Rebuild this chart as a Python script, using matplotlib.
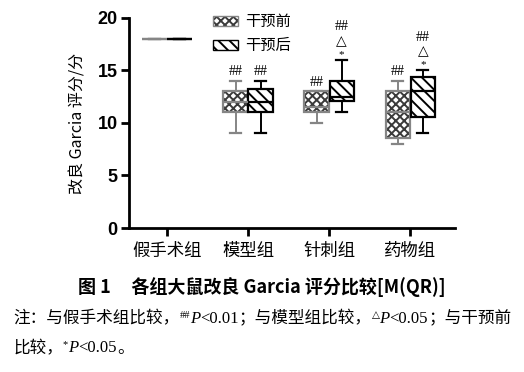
import matplotlib
matplotlib.use('Agg')
import matplotlib.pyplot as plt
from matplotlib.patches import Patch
from matplotlib.colors import to_rgba
from matplotlib.offsetbox import TextArea, HPacker, AnchoredOffsetbox
import numpy as np

plt.rcParams['font.family'] = ['Noto Sans CJK SC', 'DejaVu Sans']
plt.rcParams['hatch.linewidth'] = 1.4

groups = ['假手术组', '模型组', '针刺组', '药物组']
series = ['干预前', '干预后']

# box stats: [low whisker, q1, median, q3, high whisker]
pre_lo = [18, 9, 10, 8]
pre_q1 = [18, 11, 11, 8.6]
pre_med = [18, 12, 11.5, 11]
pre_q3 = [18, 13, 13, 13]
pre_hi = [18, 14, 13, 14]

post_lo = [18, 9, 11, 9]
post_q1 = [18, 11, 12.1, 10.6]
post_med = [18, 12, 12.5, 13]
post_q3 = [18, 13.2, 14, 14.4]
post_hi = [18, 14, 16, 15]

pre_marks = [[], ['##'], ['##'], ['##']]
post_marks = [[], ['##'], ['*', '△', '##'], ['*', '△', '##']]


def stats(lo, q1, med, q3, hi):
    return [dict(whislo=a, q1=b, med=c, q3=d, whishi=e, fliers=[])
            for a, b, c, d, e in zip(lo, q1, med, q3, hi)]


fig = plt.figure(figsize=(5.24, 3.72), dpi=100)
ax = fig.add_axes([0.246, 0.387, 0.622, 0.565])

x = np.arange(len(groups))
off = 0.155
w = 0.30
gray = '#858585'

styles = [
    (stats(pre_lo, pre_q1, pre_med, pre_q3, pre_hi), x - off, gray, 'xxxx', '#3a3a3a', pre_marks),
    (stats(post_lo, post_q1, post_med, post_q3, post_hi), x + off, 'black', '\\\\\\', 'black', post_marks),
]

mark_font = ['Liberation Serif', 'DejaVu Sans']
for st, pos, col, hatch, hcol, marks in styles:
    bp = ax.bxp(st, positions=pos, widths=w, patch_artist=True, showfliers=False,
                boxprops=dict(facecolor='white', edgecolor=col, hatch=hatch, linewidth=1.6),
                medianprops=dict(color=col, linewidth=1.6),
                whiskerprops=dict(color=col, linewidth=1.4),
                capprops=dict(color=col, linewidth=1.6), capwidths=w * 0.45)
    for b in bp['boxes']:
        b._hatch_color = to_rgba(hcol)
    for p, s, mk in zip(pos, st, marks):
        for m in mk:
            if m == '*':
                dy, fs, fam = 4, 8, mark_font
            elif m == '△':
                dy, fs, fam = 13.5, 10, 'DejaVu Sans'
            else:
                dy, fs, fam = (24 if len(mk) > 1 else 6.5), 10, mark_font
            ax.annotate(m, (p, s['whishi']), xytext=(0, dy), textcoords='offset points',
                        ha='center', va='center', fontsize=fs, family=fam)

ax.set_xlim(-0.47, 3.55)
ax.set_ylim(0, 20)
ax.set_yticks([0, 5, 10, 15, 20])
ax.set_xticks(x)
ax.set_xticklabels(groups, fontsize=12.5)
for lab in ax.get_yticklabels():
    lab.set_family('Liberation Sans')
    lab.set_fontweight('bold')
    lab.set_fontsize(13)
ax.tick_params(axis='y', length=6, width=2, pad=2)
ax.tick_params(axis='x', length=6, width=2, pad=4)
for s in ['top', 'right']:
    ax.spines[s].set_visible(False)
for s in ['left', 'bottom']:
    ax.spines[s].set_linewidth(2)
ax.set_ylabel('改良 Garcia 评分/分', fontsize=11.5, labelpad=8)

handles = [Patch(facecolor='white', edgecolor=gray, hatch='xxxx', linewidth=1),
           Patch(facecolor='white', edgecolor='black', hatch='\\\\\\', linewidth=1)]
leg = ax.legend(handles, series, loc='upper left', bbox_to_anchor=(0.24, 1.05), frameon=False,
                fontsize=11, handlelength=1.6, handleheight=0.55, handletextpad=0.5,
                labelspacing=0.45, borderaxespad=0)
leg.get_patches()[0]._hatch_color = to_rgba('#3a3a3a')

fig.text(0.5, 0.228, '图 1     各组大鼠改良 Garcia 评分比较[M(QR)]', ha='center', va='center',
         fontsize=13, fontweight='bold')


def note_line(pieces, xy):
    boxes = []
    for txt, kind in pieces:
        if kind == 'sup':
            tp = dict(fontsize=7.5, family=mark_font)
        elif kind == 'it':
            tp = dict(fontsize=12, style='italic', family='Liberation Serif')
        elif kind == 'num':
            tp = dict(fontsize=12, family='Liberation Serif')
        else:
            tp = dict(fontsize=12)
        boxes.append(TextArea(txt, textprops=tp))
    pack = HPacker(children=boxes, align='top', pad=0, sep=0)
    ab = AnchoredOffsetbox(loc='center left', child=pack, pad=0, borderpad=0, frameon=False,
                           bbox_to_anchor=xy, bbox_transform=fig.transFigure)
    fig.add_artist(ab)


note_line([('注：与假手术组比较，', 'cn'), ('##', 'sup'), ('P', 'it'), ('<0.01', 'num'),
           ('；与模型组比较，', 'cn'), ('△', 'sup'), ('P', 'it'), ('<0.05', 'num'),
           ('；与干预前', 'cn')], (0.025, 0.142))
note_line([('比较，', 'cn'), ('*', 'sup'), ('P', 'it'), ('<0.05', 'num'), ('。', 'cn')],
          (0.025, 0.062))

fig.savefig('out.png', dpi=100)
